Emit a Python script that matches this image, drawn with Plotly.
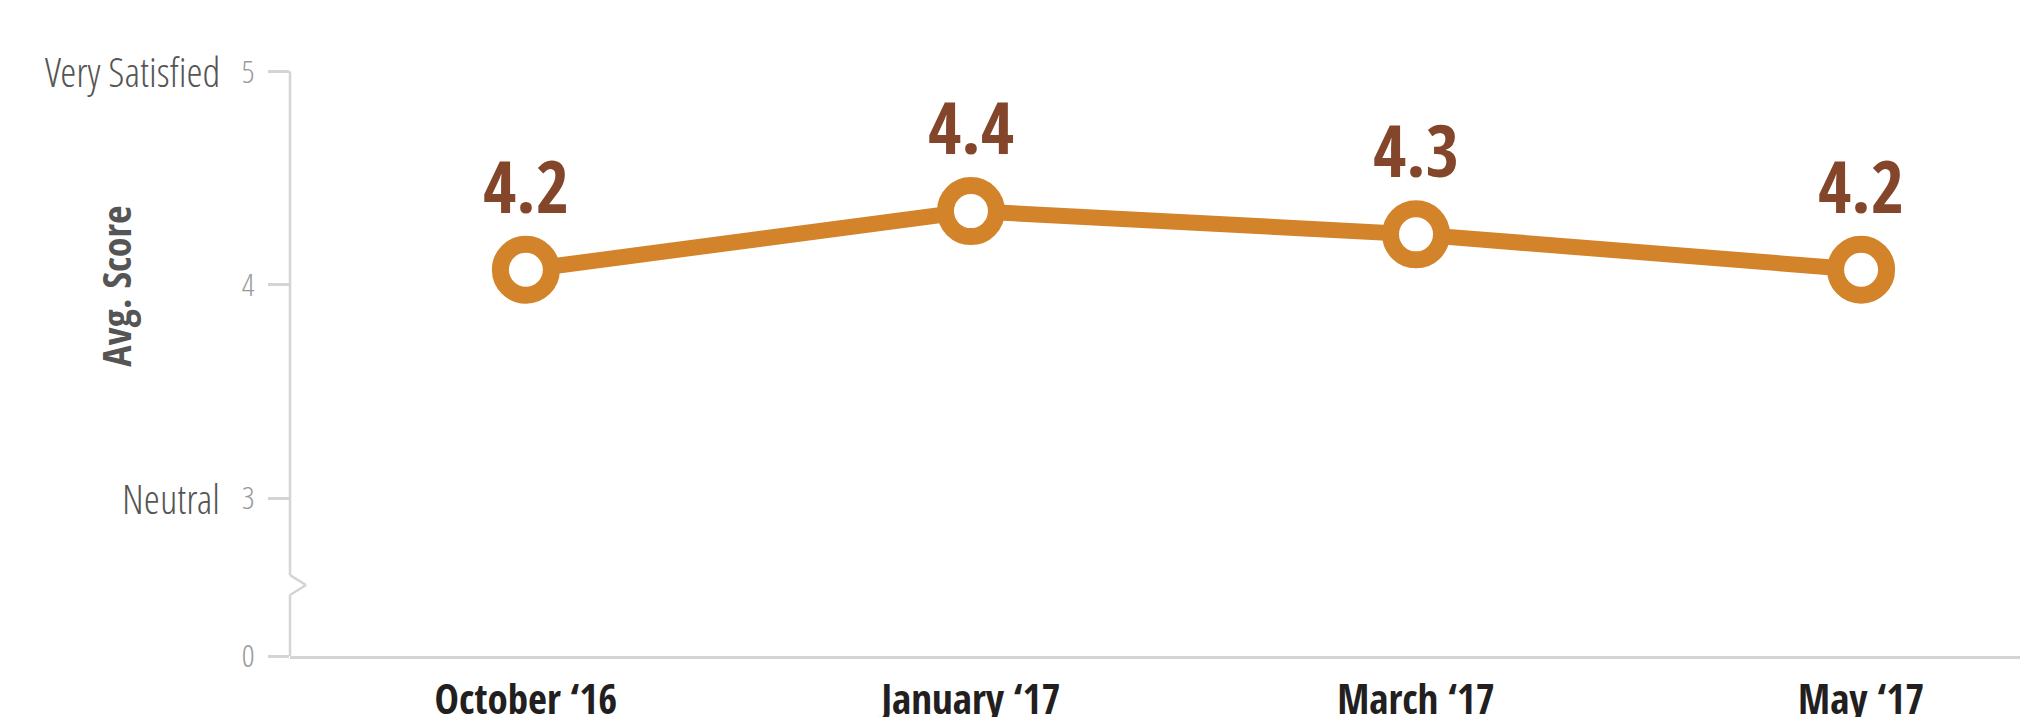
import plotly.graph_objects as go

# ---- data ----
categories = ["October ‘16", "January ‘17", "March ‘17", "May ‘17"]
scores = [4.07, 4.345, 4.236, 4.07]          # plotted positions
score_labels = ["4.2", "4.4", "4.3", "4.2"]   # printed value labels
y_tick_vals = [2.26, 3, 4, 5]                 # 2.26 = position of the broken-axis "0"
y_tick_text = ["0", "3", "4", "5"]
scale_names = [("Very Satisfied", 5), ("Neutral", 3)]

BOLD = "Open Sans Condensed, Roboto Condensed, sans-serif"
LIGHT = "Open Sans Condensed Light, Roboto Condensed, sans-serif"
ORANGE = "#D3832A"
BROWN = "#84462A"
AXIS = "#d4d4d4"

fig = go.Figure()
fig.add_trace(go.Scatter(
    x=categories, y=scores, mode="lines+markers",
    line=dict(color=ORANGE, width=16),
    marker=dict(size=51, color="white", line=dict(color=ORANGE, width=17)),
    cliponaxis=False, hoverinfo="skip",
))

annotations = []
for c, s, lab in zip(categories, scores, score_labels):
    annotations.append(dict(
        x=c, y=s, text=lab, showarrow=False, yanchor="bottom", yshift=34,
        font=dict(family=BOLD, size=72, color=BROWN, weight="bold"),
    ))
for name, v in scale_names:
    annotations.append(dict(
        xref="paper", x=0, xanchor="right", xshift=-68, y=v, yanchor="middle",
        text=name, showarrow=False,
        font=dict(family=LIGHT, size=41, color="#555555"),
    ))
annotations.append(dict(
    xref="paper", x=0, xshift=-174, y=4, yshift=-2, yanchor="middle", xanchor="center",
    text="Avg. Score", textangle=-90, showarrow=False,
    font=dict(family=BOLD, size=40, color="#555555", weight="bold"),
))

# y-axis line with break chevron
dx = 16 / 1746
shapes = [
    dict(type="line", xref="paper", yref="y", x0=0, x1=0, y0=2.639, y1=5,
         line=dict(color=AXIS, width=2.5)),
    dict(type="line", xref="paper", yref="y", x0=0, x1=dx, y0=2.639, y1=2.593,
         line=dict(color=AXIS, width=2.5)),
    dict(type="line", xref="paper", yref="y", x0=dx, x1=0, y0=2.593, y1=2.546,
         line=dict(color=AXIS, width=2.5)),
    dict(type="line", xref="paper", yref="y", x0=0, x1=0, y0=2.26, y1=2.546,
         line=dict(color=AXIS, width=2.5)),
]

fig.update_layout(
    width=2028, height=717,
    margin=dict(l=282, r=0, t=10, b=69),
    plot_bgcolor="white", paper_bgcolor="white",
    showlegend=False,
    annotations=annotations, shapes=shapes,
    xaxis=dict(
        type="category", range=[-0.53, 3.393], automargin=False,
        showline=True, linecolor=AXIS, linewidth=2.5,
        showgrid=False, zeroline=False, ticks="",
        tickfont=dict(family=BOLD, size=41, color="#231f20", weight="bold"),
        ticklabelstandoff=6,
    ),
    yaxis=dict(
        range=[2.26, 5.25], tickvals=y_tick_vals, ticktext=y_tick_text,
        automargin=False,
        ticks="outside", ticklen=21, tickwidth=2.5, tickcolor=AXIS,
        showline=False, showgrid=False, zeroline=False,
        tickfont=dict(family=LIGHT, size=32, color="#9a9a9a"),
        ticklabelstandoff=7,
    ),
)

fig.write_html("out.html")
